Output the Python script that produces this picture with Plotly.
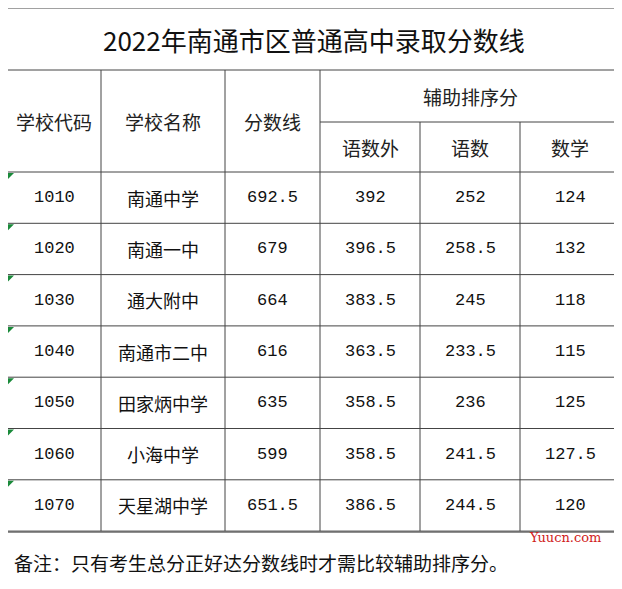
import plotly.graph_objects as go

title = "2022年南通市区普通高中录取分数线"
codes = ["1010", "1020", "1030", "1040", "1050", "1060", "1070"]
names = ["南通中学", "南通一中", "通大附中", "南通市二中", "田家炳中学", "小海中学", "天星湖中学"]
scores = ["692.5", "679", "664", "616", "635", "599", "651.5"]
yws = ["392", "396.5", "383.5", "363.5", "358.5", "358.5", "386.5"]
ys = ["252", "258.5", "245", "233.5", "236", "241.5", "244.5"]
sx = ["124", "132", "118", "115", "125", "127.5", "120"]
note = "备注：只有考生总分正好达分数线时才需比较辅助排序分。"

W, H = 622, 589
off = 8
cols = [7, 101, 225, 320, 420, 520, 620]
top, t1, t2, t3 = 8, 70, 122, 172
rowh = 51.3
nrows = len(codes)
bottom = t3 + rowh * nrows

fig = go.Figure()
shapes = []
lc = "#444"
def line(x0, y0, x1, y1):
    shapes.append(dict(type="line", x0=x0, y0=y0, x1=x1, y1=y1, line=dict(color=lc, width=1)))

line(cols[0], top, cols[-1], top)
line(cols[0], t1, cols[-1], t1)
line(cols[3], t2, cols[-1], t2)
for i in range(nrows + 1):
    y = t3 + rowh * i
    line(cols[0], y, cols[-1], y)
line(cols[0], top, cols[0], bottom)
line(cols[-1], top, cols[-1], bottom)
for c in cols[1:4]:
    line(c, t1, c, bottom)
for c in cols[4:6]:
    line(c, t2, c, bottom)
line(0, bottom + 1, W, bottom + 1)
for i in range(nrows):
    y = t3 + rowh * i
    shapes.append(dict(type="path", path=f"M {cols[0]+1},{y+1} L {cols[0]+7},{y+1} L {cols[0]+1},{y+7} Z",
                       fillcolor="#1a8a3a", line=dict(width=0)))

ann = []
cn = "Noto Sans CJK SC"
def txt(x, y, s, size=18, font=cn, color="#111", xa="center"):
    ann.append(dict(x=x, y=y, text=s, showarrow=False, xanchor=xa, yanchor="middle",
                    font=dict(size=size, family=font, color=color)))

txt((cols[0] + cols[-1]) / 2, (top + t1) / 2, title, size=26)
hdr_mid = (t1 + t3) / 2
txt((cols[0] + cols[1]) / 2, hdr_mid, "学校代码", 19, color="#222")
txt((cols[1] + cols[2]) / 2, hdr_mid, "学校名称", 19, color="#222")
txt((cols[2] + cols[3]) / 2, hdr_mid, "分数线", 19, color="#222")
txt((cols[3] + cols[-1]) / 2, (t1 + t2) / 2, "辅助排序分", 19, color="#222")
for j, s in enumerate(["语数外", "语数", "数学"]):
    txt((cols[3 + j] + cols[4 + j]) / 2, (t2 + t3) / 2, s, 19, color="#222")
num = "Liberation Mono"
for i in range(nrows):
    y = t3 + rowh * (i + 0.5)
    row = [codes[i], names[i], scores[i], yws[i], ys[i], sx[i]]
    for j, s in enumerate(row):
        txt((cols[j] + cols[j + 1]) / 2, y, s, 18 if j == 1 else 17, cn if j == 1 else num)
txt(12, (bottom + H) / 2 + 2, note, 19, xa="left")
txt(565, bottom + 6, "Yuucn.com", 13, font="DejaVu Serif", color="#d02020")

fig.update_layout(width=W, height=H, margin=dict(l=0, r=0, t=0, b=0),
                  plot_bgcolor="white", paper_bgcolor="white", shapes=shapes, annotations=ann,
                  xaxis=dict(range=[off, W + off], visible=False, fixedrange=True),
                  yaxis=dict(range=[H + off, off], visible=False, fixedrange=True),
                  showlegend=False)
fig.write_html("out.html")
